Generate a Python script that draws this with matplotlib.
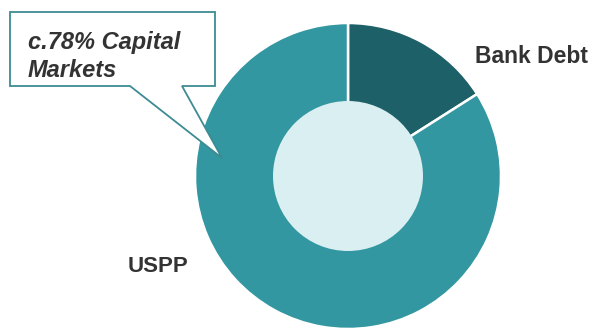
import matplotlib.pyplot as plt
from matplotlib.patches import Circle, Polygon

labels = ["Bank Debt", "USPP"]
shares = [16, 84]
colours = ["#1e6068", "#3297a0"]
callout = ["c.78% Capital", "Markets"]

W, H = 597, 328

fig = plt.figure(figsize=(W / 100, H / 100), dpi=100)
ax = fig.add_axes([0, 0, 1, 1])

cx, cy, r = 348, H - 176, 153
ax.pie(shares, colors=colours, startangle=90, counterclock=False,
       center=(cx, cy), radius=r, frame=True,
       wedgeprops=dict(edgecolor="white", linewidth=1.8))
ax.set_xlim(0, W)
ax.set_ylim(0, H)
ax.set_aspect("equal")
ax.axis("off")
ax.add_patch(Circle((cx, cy), 75, facecolor="#d9eff2", edgecolor="none", zorder=3))

# callout box with its tail pointing into the ring
pts = [(10, 12), (215, 12), (215, 86), (182, 86), (222, 158), (130, 86), (10, 86)]
ax.add_patch(Polygon([(x, H - y) for x, y in pts], closed=True, facecolor="white",
                     edgecolor="#3d8b93", linewidth=1.3, zorder=4))
font = dict(family="Liberation Sans", fontweight="bold", color="#333333")
for i, line in enumerate(callout):
    ax.text(28, H - 49 - 28 * i, line, ha="left", va="baseline", fontsize=17,
            fontstyle="italic", zorder=5, **font)

ax.text(475, H - 63, labels[0], ha="left", va="baseline", fontsize=16.5, **font)
ax.text(128, H - 272, labels[1], ha="left", va="baseline", fontsize=16, **font)

fig.savefig("out.png", dpi=100)
